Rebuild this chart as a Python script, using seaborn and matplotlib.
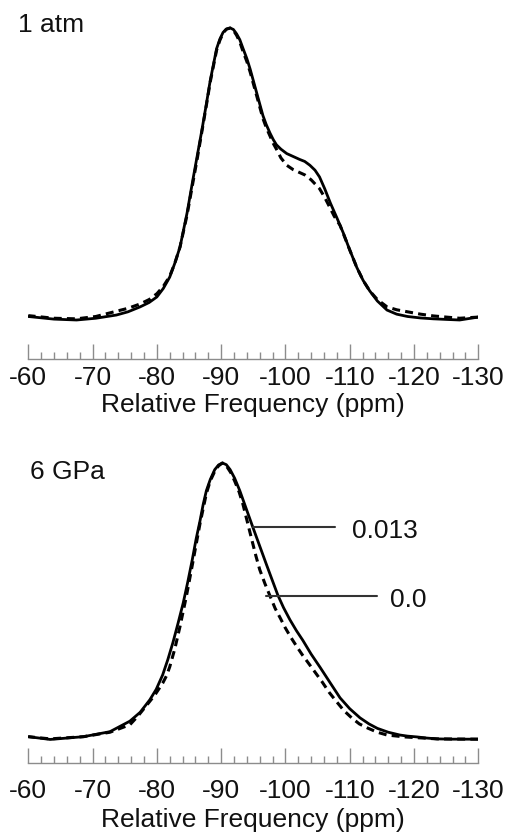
import numpy as np
import pandas as pd
import matplotlib
matplotlib.use("Agg")
import matplotlib.pyplot as plt
from matplotlib.ticker import MultipleLocator
import seaborn as sns

# ---------------- data ----------------
panel_labels = ["1 atm", "6 GPa"]
tick_values = [-60, -70, -80, -90, -100, -110, -120, -130]
tick_labels = ["-60", "-70", "-80", "-90", "-100", "-110", "-120", "-130"]
xlabel_text = "Relative Frequency (ppm)"
series_names = ["0.013", "0.0"]

# 1 atm, solid
ppm_atm_solid = [-60.0, -64.0, -67.5, -70.5, -73.7, -75.5, -77.4, -78.8, -80.0, -81.0,
                 -82.0, -82.8, -83.6, -84.7, -85.6, -86.3, -87.0, -87.7, -88.3, -89.3,
                 -89.8, -90.3, -90.8, -91.4, -91.9, -92.4, -92.9, -93.4, -94.0, -94.5,
                 -95.5, -96.5, -97.0, -97.6, -98.1, -98.6, -99.3, -100.2, -101.2, -102.2,
                 -103.0, -103.8, -104.6, -105.3, -106.1, -107.0, -108.0, -109.0, -110.0,
                 -111.1, -112.1, -113.1, -114.3, -115.8, -117.3, -119.0, -121.0, -123.0,
                 -125.0, -127.1, -130.0]
int_atm_solid = [0.012, 0.003, 0.0, 0.006, 0.017, 0.028, 0.045, 0.06, 0.079, 0.108,
                 0.147, 0.195, 0.25, 0.367, 0.48, 0.565, 0.65, 0.74, 0.82, 0.93,
                 0.962, 0.985, 0.996, 1.0, 0.995, 0.98, 0.96, 0.93, 0.895, 0.86,
                 0.78, 0.70, 0.67, 0.64, 0.618, 0.60, 0.585, 0.57, 0.56, 0.55,
                 0.543, 0.53, 0.513, 0.49, 0.45, 0.40, 0.35, 0.298, 0.24,
                 0.18, 0.135, 0.10, 0.065, 0.034, 0.02, 0.012, 0.007, 0.004,
                 0.002, 0.0, 0.01]
# 1 atm, dashed
ppm_atm_dash = [-60.0, -64.0, -67.5, -70.5, -73.7, -75.5, -77.4, -78.8, -80.0, -81.0,
                -82.0, -82.8, -83.6, -84.7, -85.6, -86.3, -87.0, -87.7, -88.3, -89.3,
                -89.8, -90.3, -90.8, -91.4, -91.9, -92.4, -92.9, -93.4, -94.0, -94.5,
                -95.5, -96.5, -97.0, -97.6, -98.1, -98.6, -99.3, -100.2, -101.2, -102.2,
                -103.0, -104.0, -105.3, -106.1, -106.8, -107.6, -108.5, -109.0, -110.0,
                -111.1, -112.1, -113.1, -114.3, -115.8, -117.3, -119.0, -121.0, -123.0,
                -125.0, -127.1, -130.0]
int_atm_dash = [0.015, 0.006, 0.004, 0.012, 0.03, 0.04, 0.055, 0.07, 0.09, 0.115,
                0.15, 0.195, 0.25, 0.36, 0.47, 0.555, 0.645, 0.735, 0.815, 0.925,
                0.958, 0.982, 0.996, 1.0, 0.992, 0.975, 0.952, 0.92, 0.885, 0.85,
                0.77, 0.69, 0.66, 0.63, 0.605, 0.585, 0.555, 0.53, 0.515, 0.505,
                0.497, 0.48, 0.45, 0.42, 0.39, 0.355, 0.324, 0.296, 0.24,
                0.18, 0.135, 0.10, 0.07, 0.045, 0.035, 0.028, 0.02, 0.014,
                0.01, 0.006, 0.01]
# 6 GPa, solid (0.013)
ppm_gpa_solid = [-60.0, -63.4, -68.6, -72.7, -75.8, -77.4, -78.9, -79.9, -80.9, -81.7,
                 -82.5, -83.3, -84.1, -84.8, -85.5, -86.1, -86.7, -87.2, -87.7, -88.3,
                 -89.0, -89.6, -90.2, -90.8, -91.4, -92.1, -92.9, -93.9, -94.9, -96.0,
                 -97.1, -97.9, -98.8, -99.7, -100.7, -101.7, -102.7, -104.0, -105.4,
                 -107.0, -108.5, -110.0, -111.6, -113.0, -114.3, -116.0, -117.8, -119.0,
                 -120.5, -122.0, -123.6, -126.0, -130.0]
int_gpa_solid = [0.012, 0.002, 0.012, 0.03, 0.068, 0.1, 0.145, 0.183, 0.235, 0.29,
                 0.352, 0.422, 0.495, 0.57, 0.65, 0.725, 0.79, 0.85, 0.90, 0.94,
                 0.976, 0.993, 1.0, 0.994, 0.976, 0.945, 0.90, 0.835, 0.77, 0.70,
                 0.63, 0.58, 0.524, 0.478, 0.434, 0.395, 0.36, 0.31, 0.262,
                 0.205, 0.152, 0.113, 0.08, 0.058, 0.042, 0.028, 0.018, 0.014,
                 0.011, 0.007, 0.004, 0.003, 0.003]
# 6 GPa, dashed (0.0)
ppm_gpa_dash = [-60.0, -63.4, -68.6, -72.7, -75.8, -77.0, -78.4, -79.7, -80.9, -81.5,
                -82.0, -82.8, -83.6, -84.6, -85.5, -86.1, -86.7, -87.7, -88.3, -89.0,
                -89.6, -90.2, -90.8, -91.5, -92.1, -92.8, -93.4, -94.1, -94.8, -95.4,
                -96.0, -96.8, -97.6, -98.4, -99.2, -99.9, -100.8, -101.8, -102.7,
                -103.5, -104.6, -105.7, -106.8, -108.0, -109.1, -110.3, -111.5, -112.8,
                -114.3, -115.8, -118.6, -123.6, -130.0]
int_gpa_dash = [0.012, 0.004, 0.012, 0.028, 0.055, 0.085, 0.125, 0.163, 0.205, 0.232,
                0.264, 0.33, 0.41, 0.52, 0.63, 0.705, 0.78, 0.89, 0.935, 0.97,
                0.99, 1.0, 0.99, 0.965, 0.935, 0.895, 0.85, 0.785, 0.72, 0.665,
                0.615, 0.565, 0.52, 0.475, 0.44, 0.408, 0.372, 0.336, 0.305,
                0.28, 0.245, 0.21, 0.172, 0.137, 0.106, 0.08, 0.058, 0.043,
                0.028, 0.018, 0.011, 0.004, 0.003]

# ---------------- style ----------------
sns.set_style("white")
plt.rcParams["font.family"] = ["Liberation Sans", "DejaVu Sans"]
plt.rcParams["text.color"] = "#111111"
plt.rcParams["xtick.color"] = "#111111"
plt.rcParams["axes.labelcolor"] = "#111111"

W, H = 508, 835
fig = plt.figure(figsize=(W / 100, H / 100), dpi=100)

def px_axes(left_px, right_px, top_px, bottom_px):
    return fig.add_axes([left_px / W, 1 - bottom_px / H,
                         (right_px - left_px) / W, (bottom_px - top_px) / H])

grey = "#8c8c8c"
DASH = (0, (2.6, 1.7))

def style_axis(ax, ylim, pad):
    ax.set_xlim(-60, -130)
    ax.set_ylim(*ylim)
    for s in ["top", "left", "right"]:
        ax.spines[s].set_visible(False)
    ax.spines["bottom"].set_color(grey)
    ax.spines["bottom"].set_linewidth(1.0)
    ax.set_yticks([])
    ax.set_xticks(tick_values)
    ax.set_xticklabels(tick_labels)
    ax.xaxis.set_minor_locator(MultipleLocator(2))
    ax.tick_params(axis="x", which="major", direction="in", length=10.5, width=1.0,
                   color=grey, labelcolor="#111111", labelsize=19, pad=pad, bottom=True)
    ax.tick_params(axis="x", which="minor", direction="in", length=5, width=1.0,
                   color=grey, bottom=True)
    ax.set_ylabel("")
    if ax.get_legend() is not None:
        ax.get_legend().remove()

# top panel
ax1 = px_axes(28.3, 478.3, 10, 359.3)
df1s = pd.DataFrame({"ppm": ppm_atm_solid, "I": int_atm_solid})
df1d = pd.DataFrame({"ppm": ppm_atm_dash, "I": int_atm_dash})
sns.lineplot(data=df1s, x="ppm", y="I", ax=ax1, color="black", lw=2.0)
sns.lineplot(data=df1d, x="ppm", y="I", ax=ax1, color="black", lw=2.2, linestyle=DASH)
ppx1 = 292.0
style_axis(ax1, (-(359.3 - 320) / ppx1, 1 + (28 - 10) / ppx1), pad=5)
ax1.set_xlabel(xlabel_text, fontsize=19, labelpad=2)
ax1.text(18 / W, 1 - 25 / H, panel_labels[0], transform=fig.transFigure,
         fontsize=19, va="center", ha="left")

# bottom panel
ax2 = px_axes(28.3, 478.3, 440, 762.7)
df2s = pd.DataFrame({"ppm": ppm_gpa_solid, "I": int_gpa_solid})
df2d = pd.DataFrame({"ppm": ppm_gpa_dash, "I": int_gpa_dash})
sns.lineplot(data=df2s, x="ppm", y="I", ax=ax2, color="black", lw=2.0)
sns.lineplot(data=df2d, x="ppm", y="I", ax=ax2, color="black", lw=2.2, linestyle=DASH)
ppx2 = 277.0
style_axis(ax2, (-(762.7 - 740) / ppx2, 1 + (463 - 440) / ppx2), pad=12)
ax2.set_xlabel(xlabel_text, fontsize=19, labelpad=3)
ax2.text(30 / W, 1 - 472 / H, panel_labels[1], transform=fig.transFigure,
         fontsize=19, va="center", ha="left")

# annotation leaders
ax2.plot([-95.0, -107.7], [0.77, 0.77], color="#333333", lw=1.5)
ax2.text(-110.4, 0.755, series_names[0], fontsize=19, va="center", ha="left")
ax2.plot([-96.9, -114.3], [0.52, 0.52], color="#333333", lw=1.5)
ax2.text(-116.3, 0.505, series_names[1], fontsize=19, va="center", ha="left")

fig.savefig("out.png", dpi=100, facecolor="white")
